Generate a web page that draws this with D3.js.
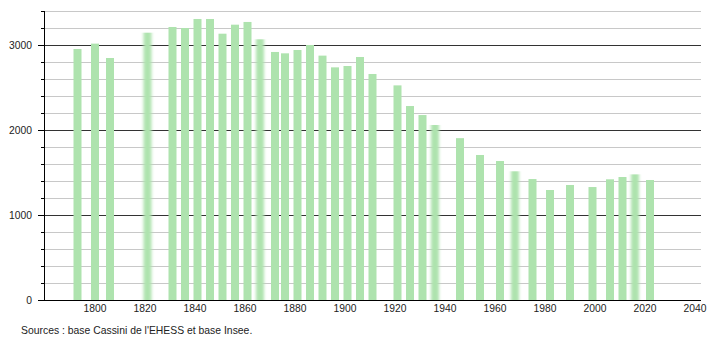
<!DOCTYPE html>
<html>
<head>
<meta charset="utf-8">
<script src="https://d3js.org/d3.v7.min.js"></script>
<style>
  body { margin: 0; background: #fff; }
  svg text { font-family: "Liberation Sans", Arial, sans-serif; fill: #222; }
</style>
</head>
<body>
<div id="chart"></div>
<script>
"use strict";

// années de recensement
const years = [1793, 1800, 1806, 1821, 1831, 1836, 1841, 1846, 1851, 1856,
  1861, 1866, 1872, 1876, 1881, 1886, 1891, 1896, 1901, 1906,
  1911, 1921, 1926, 1931, 1936, 1946, 1954, 1962, 1968, 1975,
  1982, 1990, 1999, 2006, 2011, 2016, 2022];

// population
const population = [2953, 3016, 2847, 3145, 3212, 3200, 3306, 3306, 3133, 3239,
  3271, 3067, 2918, 2902, 2941, 3000, 2875, 2737, 2753, 2859,
  2659, 2525, 2282, 2176, 2059, 1904, 1706, 1635, 1514, 1423,
  1294, 1353, 1329, 1420, 1447, 1478, 1412];

// barres floues dans l'original
const blurredYears = [1821, 1866, 1936, 1968, 2016];

const xTicks = [1800, 1820, 1840, 1860, 1880, 1900, 1920, 1940, 1960, 1980, 2000, 2020, 2040];
const yMajor = [0, 1000, 2000, 3000];
const yMinor = d3.range(0, 3401, 200);

const source = "Sources : base Cassini de l'EHESS et base Insee.";

const data = years.map((y, i) => ({ year: y, value: population[i] }));

const width = 710;
const height = 340;

const svg = d3.select("#chart")
  .append("svg")
  .attr("width", width)
  .attr("height", height);

const x = d3.scaleLinear().domain([1779.6, 2042.4]).range([44, 701]);
const y = d3.scaleLinear().domain([0, 3400]).range([300, 11]);

const defs = svg.append("defs");
defs.append("filter")
  .attr("id", "soft")
  .attr("x", "-60%").attr("width", "220%")
  .attr("y", "-5%").attr("height", "110%")
  .append("feGaussianBlur")
  .attr("stdDeviation", "1.6 0");

// grille secondaire
svg.append("g")
  .selectAll("line")
  .data(yMinor.filter((d) => d % 1000 !== 0))
  .join("line")
  .attr("x1", 44).attr("x2", 701)
  .attr("y1", (d) => Math.round(y(d)) + 0.5)
  .attr("y2", (d) => Math.round(y(d)) + 0.5)
  .attr("stroke", "#c8c8c8");

// grille principale
svg.append("g")
  .selectAll("line")
  .data(yMajor.filter((d) => d > 0))
  .join("line")
  .attr("x1", 44).attr("x2", 701)
  .attr("y1", (d) => Math.round(y(d)) + 0.5)
  .attr("y2", (d) => Math.round(y(d)) + 0.5)
  .attr("stroke", "#333");

// barres
const barW = x(1803.2) - x(1800);
svg.append("g")
  .selectAll("rect")
  .data(data)
  .join("rect")
  .attr("x", (d) => x(d.year) - barW / 2)
  .attr("width", barW)
  .attr("y", (d) => y(d.value))
  .attr("height", (d) => y(0) - y(d.value))
  .attr("fill", "#aee3ae")
  .attr("filter", (d) => blurredYears.includes(d.year) ? "url(#soft)" : null);

// axe y
const yAxis = svg.append("g");
yAxis.append("line")
  .attr("x1", 44.5).attr("x2", 44.5)
  .attr("y1", y(3400)).attr("y2", 300.5)
  .attr("stroke", "#000");

yAxis.selectAll(".minor")
  .data(yMinor)
  .join("line")
  .attr("x1", (d) => d % 1000 === 0 ? 38 : 41)
  .attr("x2", 44)
  .attr("y1", (d) => Math.round(y(d)) + 0.5)
  .attr("y2", (d) => Math.round(y(d)) + 0.5)
  .attr("stroke", "#000");

yAxis.selectAll("text")
  .data(yMajor)
  .join("text")
  .attr("x", 32)
  .attr("y", (d) => y(d))
  .attr("dy", "0.35em")
  .attr("text-anchor", "end")
  .style("font-size", "10.3px")
  .text((d) => d);

// axe x
svg.append("line")
  .attr("x1", 44).attr("x2", 701)
  .attr("y1", 300.5).attr("y2", 300.5)
  .attr("stroke", "#000");

svg.append("g")
  .selectAll("text")
  .data(xTicks)
  .join("text")
  .attr("x", (d) => x(d))
  .attr("y", 312)
  .attr("text-anchor", "middle")
  .style("font-size", "10.3px")
  .text((d) => d);

svg.append("text")
  .attr("x", 21)
  .attr("y", 334)
  .style("font-size", "10.4px")
  .text(source);
</script>
</body>
</html>
